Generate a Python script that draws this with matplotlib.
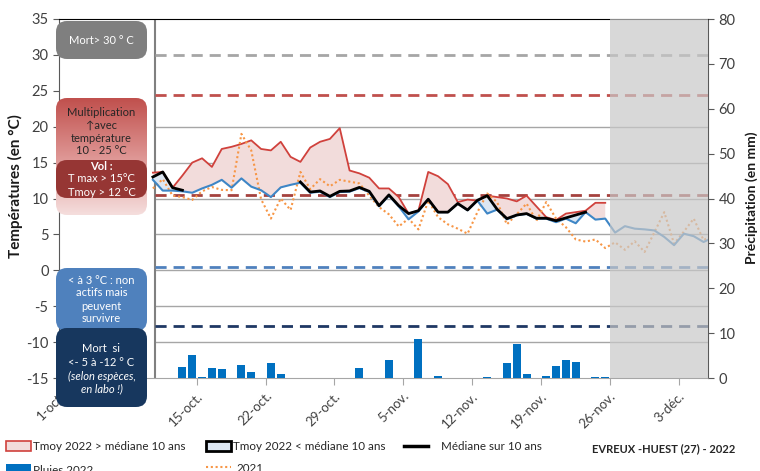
import numpy as np
import matplotlib
matplotlib.use('Agg')
import matplotlib.pyplot as plt
import matplotlib.transforms as mtransforms
from matplotlib.patches import FancyBboxPatch, Rectangle
from matplotlib.lines import Line2D
from matplotlib.colors import LinearSegmentedColormap

plt.rcParams['font.family'] = ['Lato', 'DejaVu Sans']
plt.rcParams['axes.unicode_minus'] = False

nan = np.nan
# one value per day, starting 10 oct. (index 0)
tmoy_2022 = [13.6, 13.7, 11.5, 13.2, 15.0, 15.6, 14.4, 16.9, 17.2, 17.6,
             18.1, 16.9, 16.7, 17.9, 15.8, 15.1, 17.1, 17.9, 18.3, 19.8,
             13.9, 13.5, 12.9, 11.4, 11.4, 10.2, 7.9, 8.3, 13.7, 13.1,
             12.0, 9.5, 9.85, 9.7, 10.4, 10.2, 10.0, 9.6, 10.4, 8.9,
             7.4, 7.0, 7.9, 8.1, 8.3, 9.4, 9.4]
tmoy_bas = [13.0, 13.7, 11.5, 11.15, nan, nan, nan, nan, nan, nan,
            nan, nan, nan, nan, nan, 12.3, 10.9, 11.05, 10.3, 11.0,
            11.05, 11.55, 11.0, 9.0, 10.5, 9.0, 7.9, 8.3, 9.9, 8.1,
            8.1, 9.3, 8.4, 9.75, 10.4, 8.5, 7.2, 7.7, 7.9, 7.25,
            7.25, 6.9, 7.3, 7.7, 8.1, nan, nan]
mediane = [12.6, 11.1, 11.1, 11.0, 10.8, 11.4, 11.9, 12.6, 11.5, 12.8,
           11.65, 11.15, 10.2, 11.55, 11.9, 12.2, 10.8, 10.95, 10.2, 10.9,
           10.95, 11.45, 10.9, 8.9, 10.4, 8.9, 7.1, 8.2, 9.9, 8.1,
           8.1, 9.3, 8.36, 9.7, 7.9, 8.45, 7.1, 7.66, 7.85, 7.2,
           7.2, 6.7, 7.2, 6.55, 8.1, 7.06, 7.2, 5.25, 6.15, 5.8,
           5.7, 5.55, 4.65, 3.5, 5.1, 4.75, 3.94, 4.6]
t_2021 = [11.4, 12.7, 10.4, 10.2, 9.8, 11.0, 11.6, 11.2, 11.15, 19.0,
          16.7, 9.9, 7.2, 10.0, 8.4, 13.7, 11.3, 12.7, 11.7, 12.6,
          12.35, 12.1, 10.4, 8.8, 7.8, 6.1, 7.2, 5.7, 9.7, 7.4,
          6.4, 5.8, 5.1, 8.1, 10.7, 9.5, 6.4, 7.8, 9.3, 6.9,
          9.5, 7.2, 6.0, 4.3, 4.0, 4.3, 3.1, 3.9, 2.85, 4.05,
          2.55, 5.3, 8.1, 3.7, 5.4, 7.2, 4.2, 5.0]
pluie_jour = [3, 4, 5, 6, 7, 9, 10, 12, 13, 21, 24, 27, 29,
              34, 36, 37, 38, 40, 41, 42, 43, 45, 46]
pluie_mm = [2.4, 5.1, 0.2, 2.2, 1.9, 2.8, 1.4, 3.3, 1.0, 2.2, 3.9, 8.8, 0.4,
            0.2, 3.3, 7.6, 0.8, 0.4, 2.6, 3.9, 3.5, 0.2, 0.2]
seuils = [30, 24.4, 10.55, 0.45, -7.75]
seuil_couleurs = ['#A6A6A6', '#C0504D', '#A5423F', '#4F81BD', '#1F3864']
tick_jours = [0, 7, 14, 21, 28, 35, 42, 49, 56, 63]
tick_labels = ['1-oct.', '', '15-oct.', '22-oct.', '29-oct.', '5-nov.',
               '12-nov.', '19-nov.', '26-nov.', '3-déc.']

X0 = 9.55
W, H = 760, 471
fig = plt.figure(figsize=(7.6, 4.71), dpi=100)
ax = fig.add_axes([59 / W, 1 - 378 / H, (708 - 59) / W, (378 - 19) / H])
ax2 = ax.twinx()

x22 = X0 + np.arange(len(tmoy_2022))
xmed = X0 + np.arange(len(mediane))
r = np.array(tmoy_2022)
k = np.array(tmoy_bas)
b = np.array(mediane[:len(tmoy_2022)])

ax.set_xlim(0, 66)
ax.set_ylim(-15, 35)
ax2.set_ylim(0, 80)

# grid, limits
ax.hlines([-10, -5, 0, 5, 10, 15, 20], 9.75, 66, color='#A6A6A6', lw=1, zorder=1)
ax.axvline(9.75, color='#808080', lw=1.5, zorder=1)
for s, c in zip(seuils, seuil_couleurs):
    ax.hlines(s, 9.75, 66, color=c, lw=2, linestyles=(0, (4, 2.5)), zorder=2)

ax.fill_between(x22, r, b, where=r > b, interpolate=True, color='#F2DCDB', lw=0, zorder=2)
ax.fill_between(x22, k, b, where=k > b, interpolate=True, color='#DCE6F2', lw=0, zorder=2)
ax.plot(x22, r, color='#D0413C', lw=1.3, zorder=3)
ax.plot(xmed, t_2021, color='#F79646', lw=1.5, ls=(0, (1, 1.3)), zorder=3)
ax.plot(xmed, mediane, color='#3E86C6', lw=1.5, zorder=4)
ax.plot(x22, k, color='black', lw=2, zorder=5)

ax2.bar(X0 + np.array(pluie_jour), pluie_mm, width=0.8, color='#0070C0', zorder=2)
ax2.axvspan(56, 66, color='#C8C8C8', alpha=0.7, lw=0, zorder=3)

ax.set_yticks(range(-15, 36, 5))
ax2.set_yticks(range(0, 81, 10))
ax.set_xticks(tick_jours)
ax.set_xticklabels(tick_labels, rotation=45, ha='right', va='top', rotation_mode='anchor')
shift = mtransforms.ScaledTranslation(3 / 100, -2 / 100, fig.dpi_scale_trans)
for lab in ax.get_xticklabels():
    lab.set_transform(lab.get_transform() + shift)
ax.tick_params(axis='x', colors='#A6A6A6', labelcolor='#404040', labelsize=9.5, length=5)
ax.tick_params(axis='y', colors='#595959', labelcolor='#404040', labelsize=10.5, length=4)
ax2.tick_params(axis='y', colors='#595959', labelcolor='#404040', labelsize=10.5, length=4)
for sp in ['left', 'right', 'top', 'bottom']:
    ax2.spines[sp].set_visible(False)
ax.spines['left'].set_color('#595959')
ax.spines['right'].set_color('#595959')
ax.spines['top'].set_color('black')
ax.spines['bottom'].set_color('#A6A6A6')

# overlay in pixel coordinates for boxes, labels and legend
ov = fig.add_axes([0, 0, 1, 1], zorder=10)
ov.axis('off')
ov.patch.set_visible(False)

ov.text(15, 186, 'Températures (en °C)', fontweight='bold', fontsize=11,
        rotation=90, ha='center', va='center', color='#1a1a1a')
ov.text(752, 198, 'Précipitation (en mm)', fontweight='bold', fontsize=10,
        rotation=90, ha='center', va='center', color='#1a1a1a')


def boite(x0, y0, x1, y1, couleur):
    p = FancyBboxPatch((x0, y0), x1 - x0, y1 - y0,
                       boxstyle='round,pad=0,rounding_size=11',
                       fc=couleur, ec='none', zorder=2)
    ov.add_patch(p)
    return p


fs = 8
boite(56, 21, 147, 59, '#7F7F7F')
ov.text(101.5, 40, 'Mort> 30 ° C', color='white', fontsize=fs, ha='center', va='center', zorder=5)

pm = boite(56, 98, 147, 215, 'none')
cmap = LinearSegmentedColormap.from_list('m', ['#C0504D', '#DE9593', '#F5DEDD'])
im = ov.imshow(np.linspace(0, 1, 256).reshape(-1, 1), extent=[56, 147, 215, 98],
               cmap=cmap, aspect='auto', zorder=1)
im.set_clip_path(pm)
for yy, t in zip([112, 125, 138, 151], ['Multiplication', '↑avec', 'température', '10 - 25 °C']):
    ov.text(101.5, yy, t, color='#262626', fontsize=fs, ha='center', va='center', zorder=5)

boite(56, 160, 147, 198, '#963634')
ov.text(101.5, 166, 'Vol :', color='white', fontsize=fs, fontweight='bold', ha='center', va='center', zorder=5)
ov.text(101.5, 179, 'T max > 15°C', color='white', fontsize=fs, ha='center', va='center', zorder=5)
ov.text(101.5, 192, 'Tmoy > 12 °C', color='white', fontsize=fs, ha='center', va='center', zorder=5)

boite(56, 268, 147, 331, '#4F81BD')
for yy, t in zip([280, 293, 306, 318], ['< à 3 °C : non', 'actifs mais', 'peuvent', 'survivre']):
    ov.text(101.5, yy, t, color='white', fontsize=fs, ha='center', va='center', zorder=5)

boite(56, 328, 147, 407, '#17375E')
ov.text(101.5, 348, 'Mort  si', color='white', fontsize=fs, ha='center', va='center', zorder=5)
ov.text(101.5, 362, '<- 5 à -12 ° C', color='white', fontsize=fs, ha='center', va='center', zorder=5)
ov.text(101.5, 376, '(selon espèces,', color='white', fontsize=fs, style='italic', ha='center', va='center', zorder=5)
ov.text(101.5, 389, 'en labo !)', color='white', fontsize=fs, style='italic', ha='center', va='center', zorder=5)

# legend
lfs = 8.4
ov.add_patch(Rectangle((6, 441), 25, 10, fc='#F2DCDB', ec='#D0413C', lw=1.2))
ov.text(33, 446, 'Tmoy 2022 > médiane 10 ans', fontsize=lfs, va='center', color='#262626')
ov.add_patch(Rectangle((206, 441), 25, 10, fc='#DCE6F2', ec='black', lw=2))
ov.text(233, 446, 'Tmoy 2022 < médiane 10 ans', fontsize=lfs, va='center', color='#262626')
ov.add_line(Line2D([404, 428], [446, 446], color='black', lw=2.5))
ov.text(441, 446, 'Médiane sur 10 ans', fontsize=lfs, va='center', color='#262626')
ov.text(592, 449, 'EVREUX -HUEST (27) - 2022', fontsize=8, fontweight='bold', va='center', color='#262626')
ov.add_patch(Rectangle((6, 464), 25, 10, fc='#0070C0', ec='none'))
ov.text(33, 471, 'Pluies 2022', fontsize=lfs, va='center', color='#262626')
ov.add_line(Line2D([206, 231], [467, 467], color='#F79646', lw=1.5, ls=(0, (1, 1.3))))
ov.text(236, 469, '2021', fontsize=lfs, va='center', color='#262626')

ov.set_xlim(0, W)
ov.set_ylim(H, 0)

fig.savefig('out.png', dpi=100)
